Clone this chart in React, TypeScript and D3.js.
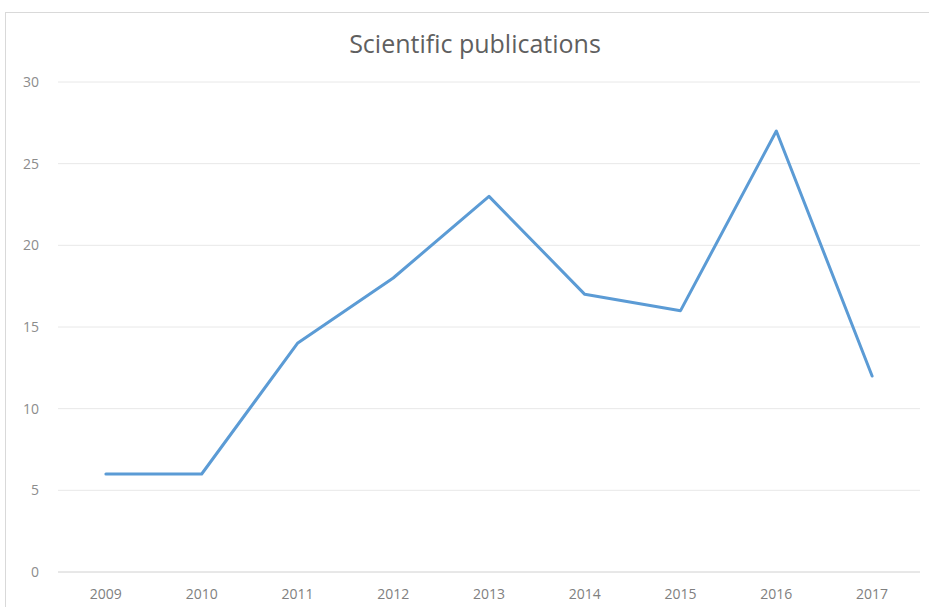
import React from "react";
import * as d3 from "d3";

const categories = ["2009", "2010", "2011", "2012", "2013", "2014", "2015", "2016", "2017"];
const values = [6, 6, 14, 18, 23, 17, 16, 27, 12];
const yTicks = [0, 5, 10, 15, 20, 25, 30];
const title = "Scientific publications";

export default function App() {
  const W = 929, H = 607;
  const left = 58, right = 920, top = 82, bottom = 572;
  const x = d3.scaleBand<string>().domain(categories).range([left, right]);
  const y = d3.scaleLinear().domain([0, 30]).range([bottom, top]);
  const line = d3.line<number>()
    .x((_, i) => (x(categories[i]) as number) + x.bandwidth() / 2)
    .y((d) => y(d));
  const font = "'Open Sans', 'Noto Sans', sans-serif";
  return (
    <svg width={W} height={H} style={{ position: "absolute", left: 0, top: 0, background: "#fff" }}>
      <rect x={5.5} y={12.5} width={W + 10} height={H + 10} fill="#fff" stroke="#d9d9d9" strokeWidth={1} />
      <text x={475} y={53} textAnchor="middle" fontFamily={font} fontSize={25} fill="#5f5f5f">{title}</text>
      {yTicks.map((t) => (
        <g key={t}>
          <line x1={left} x2={right} y1={y(t)} y2={y(t)} stroke={t === 0 ? "#d0d0d0" : "#e8e8e8"} strokeWidth={1} />
          <text x={39} y={y(t) + 5} textAnchor="end" fontFamily={font} fontSize={14} fill="#8c8c8c">{t}</text>
        </g>
      ))}
      {categories.map((c) => (
        <text key={c} x={(x(c) as number) + x.bandwidth() / 2} y={599} textAnchor="middle" fontFamily={font} fontSize={14} fill="#808080">{c}</text>
      ))}
      <path d={line(values) || ""} fill="none" stroke="#5b9bd5" strokeWidth={3} strokeLinejoin="round" strokeLinecap="round" />
    </svg>
  );
}
